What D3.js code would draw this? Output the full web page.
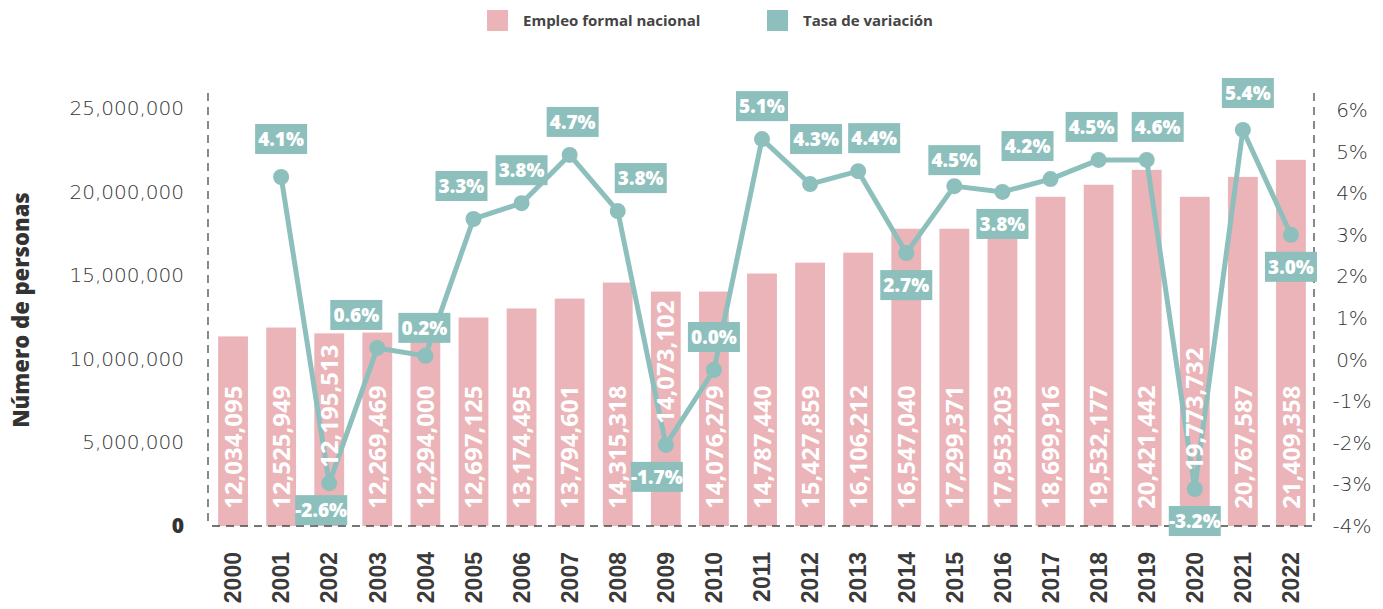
<!DOCTYPE html>
<html>
<head>
<meta charset="utf-8">
<script src="https://cdn.jsdelivr.net/npm/d3@7"></script>
<style>
  body { margin: 0; background: #fff; }
  svg { display: block; font-family: "Open Sans", sans-serif; }
  .tick line { display: none; }
</style>
</head>
<body>
<div id="grafico"></div>
<script>
// datos
var anios = ["2000","2001","2002","2003","2004","2005","2006","2007","2008","2009","2010","2011",
             "2012","2013","2014","2015","2016","2017","2018","2019","2020","2021","2022"];

// empleo formal nacional (valor de la etiqueta)
var empleo = [12034095, 12525949, 12195513, 12269469, 12294000, 12697125, 13174495, 13794601,
              14315318, 14073102, 14076279, 14787440, 15427859, 16106212, 16547040, 17299371,
              17953203, 18699916, 19532177, 20421442, 19773732, 20767587, 21409358];

// altura de las barras tal como se ven en la imagen
var empleoBarra = [11340000, 11870000, 11520000, 11570000, 11600000, 12470000, 13010000, 13600000,
                   14560000, 14020000, 14020000, 15100000, 15750000, 16350000, 17780000, 17780000,
                   17780000, 19690000, 20410000, 21300000, 19690000, 20880000, 21900000];

// tasa de variacion (etiqueta) y posicion de los puntos en la imagen
var tasa = [null, 4.1, -2.6, 0.6, 0.2, 3.3, 3.8, 4.7, 3.8, -1.7, 0.0, 5.1,
            4.3, 4.4, 2.7, 4.5, 3.8, 4.2, 4.5, 4.6, -3.2, 5.4, 3.0];
var tasaPunto = [null, 4.39, -2.97, 0.28, 0.09, 3.38, 3.76, 4.92, 3.57, -2.05, -0.25, 5.30,
                 4.22, 4.53, 2.56, 4.17, 4.03, 4.34, 4.80, 4.80, -3.11, 5.52, 3.0];

var ticksIzq = [0, 5000000, 10000000, 15000000, 20000000, 25000000];
var ticksDer = [-4, -3, -2, -1, 0, 1, 2, 3, 4, 5, 6];

var rosa = "#ebb4b8";
var verde = "#8dbfbd";

// etiquetas de la tasa que van debajo del punto, y pequeños ajustes
var debajo = ["2002", "2009", "2014", "2016", "2020", "2022"];
var ajusteX = {"2002": -8, "2003": -21, "2004": -1, "2005": -12, "2007": 3, "2008": 23, "2009": -9,
               "2012": 6, "2013": 16, "2017": -23, "2018": -7, "2019": 11, "2021": 5};
var ajusteY = {"2001": -5, "2002": -5, "2004": 5, "2012": -12, "2015": 7, "2021": -4};
// etiquetas de barra que suben para no chocar con la linea
var subeBarra = {"2002": 41, "2009": 85, "2020": 38};

var width = 1383, height = 609;

var svg = d3.select("#grafico").append("svg")
    .attr("width", width)
    .attr("height", height);

var x = d3.scaleBand()
    .domain(anios)
    .range([209, 1315])
    .paddingInner(0.38)
    .paddingOuter(0.19);

var yIzq = d3.scaleLinear()
    .domain([0, 25000000])
    .range([526, 108]);

var yDer = d3.scaleLinear()
    .domain([-4, 6])
    .range([526, 110]);

var cx = function(d) { return x(d) + x.bandwidth() / 2; };

// barras
svg.selectAll(".barra")
    .data(anios)
    .enter().append("rect")
    .attr("class", "barra")
    .attr("x", function(d) { return x(d); })
    .attr("width", x.bandwidth())
    .attr("y", function(d, i) { return yIzq(empleoBarra[i]); })
    .attr("height", function(d, i) { return yIzq(0) - yIzq(empleoBarra[i]); })
    .attr("fill", rosa);

// ejes punteados
var punteado = "8,6";
svg.append("line")
    .attr("x1", 208).attr("x2", 208)
    .attr("y1", 93).attr("y2", yIzq(0))
    .attr("stroke", "#4a4a4a").attr("stroke-width", 1.3).attr("stroke-dasharray", punteado);
svg.append("line")
    .attr("x1", 1314).attr("x2", 1314)
    .attr("y1", 93).attr("y2", yIzq(0))
    .attr("stroke", "#4a4a4a").attr("stroke-width", 1.3).attr("stroke-dasharray", punteado);
svg.append("line")
    .attr("x1", 212).attr("x2", 1314)
    .attr("y1", yIzq(0)).attr("y2", yIzq(0))
    .attr("stroke", "#4a4a4a").attr("stroke-width", 1.3).attr("stroke-dasharray", punteado);

// eje izquierdo
var ejeIzq = svg.append("g")
    .attr("transform", "translate(208,0)")
    .call(d3.axisLeft(yIzq).tickValues(ticksIzq).tickSize(0).tickPadding(24)
          .tickFormat(d3.format(",")));
ejeIzq.select(".domain").remove();
ejeIzq.selectAll("text")
    .style("font-family", "'DejaVu Sans', sans-serif")
    .style("font-size", "20px")
    .style("font-weight", 200)
    .attr("fill", "#333");
ejeIzq.selectAll("text").filter(function(d) { return d === 0; })
    .style("font-weight", 800)
    .style("font-family", "'Open Sans', sans-serif")
    .style("font-size", "21px")
    .attr("fill", "#333");

// eje derecho
var ejeDer = svg.append("g")
    .attr("transform", "translate(1314,0)")
    .call(d3.axisRight(yDer).tickValues(ticksDer).tickSize(0).tickPadding(38)
          .tickFormat(function(d) { return d + "%"; }));
ejeDer.select(".domain").remove();
ejeDer.selectAll("text")
    .attr("text-anchor", "middle")
    .style("font-family", "'DejaVu Sans', sans-serif")
    .style("font-size", "20px")
    .style("font-weight", 200)
    .attr("fill", "#333");

// eje x
var ejeX = svg.append("g")
    .attr("transform", "translate(0,552)")
    .call(d3.axisBottom(x).tickSize(0).tickPadding(0));
ejeX.select(".domain").remove();
ejeX.selectAll("text")
    .attr("transform", "rotate(-90)")
    .attr("text-anchor", "end")
    .attr("x", 0)
    .attr("y", 0)
    .attr("dy", "0.36em")
    .style("font-size", "23px")
    .style("font-weight", 800)
    .attr("fill", "#3a3a3a");

// titulo eje y
svg.append("text")
    .attr("transform", "translate(21,310) rotate(-90)")
    .attr("text-anchor", "middle")
    .attr("dy", "0.36em")
    .style("font-size", "22px")
    .style("font-weight", 800)
    .attr("fill", "#333")
    .text("Número de personas");

// linea de la tasa
var puntos = anios.map(function(d, i) { return {anio: d, v: tasaPunto[i], t: tasa[i]}; })
    .filter(function(d) { return d.v !== null; });

var linea = d3.line()
    .x(function(d) { return cx(d.anio); })
    .y(function(d) { return yDer(d.v); });

svg.append("path")
    .datum(puntos)
    .attr("d", linea)
    .attr("fill", "none")
    .attr("stroke", verde)
    .attr("stroke-width", 5)
    .attr("stroke-linejoin", "round");

svg.selectAll(".punto")
    .data(puntos)
    .enter().append("circle")
    .attr("class", "punto")
    .attr("cx", function(d) { return cx(d.anio); })
    .attr("cy", function(d) { return yDer(d.v); })
    .attr("r", 8)
    .attr("fill", verde);

// etiquetas de las barras (encima de la linea)
svg.selectAll(".valor")
    .data(anios)
    .enter().append("text")
    .attr("class", "valor")
    .attr("transform", function(d) {
        return "translate(" + cx(d) + "," + (509 - (subeBarra[d] || 0)) + ") rotate(-90)";
    })
    .attr("dy", "0.36em")
    .attr("fill", "#fff")
    .style("font-size", "24px")
    .style("font-weight", 700)
    .text(function(d, i) { return d3.format(",")(empleo[i]); });

// etiquetas de la tasa
var etiqueta = svg.selectAll(".etiqueta")
    .data(puntos)
    .enter().append("g")
    .attr("class", "etiqueta")
    .attr("transform", function(d) {
        var dy = debajo.indexOf(d.anio) >= 0 ? 32 : -33;
        dy += ajusteY[d.anio] || 0;
        var dx = ajusteX[d.anio] || 0;
        return "translate(" + (cx(d.anio) + dx) + "," + (yDer(d.v) + dy) + ")";
    });

etiqueta.append("rect")
    .attr("x", -26).attr("y", -15)
    .attr("width", 52).attr("height", 30)
    .attr("fill", verde);

etiqueta.append("text")
    .attr("text-anchor", "middle")
    .attr("dy", "0.36em")
    .attr("fill", "#fff")
    .style("font-size", "19px")
    .style("font-weight", 800)
    .text(function(d) { return d.t.toFixed(1) + "%"; });

// leyenda
var leyenda = [["Empleo formal nacional", rosa, 487], ["Tasa de variación", verde, 767]];
var ley = svg.selectAll(".ley")
    .data(leyenda)
    .enter().append("g")
    .attr("class", "ley")
    .attr("transform", function(d) { return "translate(" + d[2] + ",10)"; });
ley.append("rect")
    .attr("width", 21).attr("height", 21)
    .attr("fill", function(d) { return d[1]; });
ley.append("text")
    .attr("x", 36).attr("y", 16)
    .style("font-size", "15px")
    .style("font-weight", 700)
    .attr("fill", "#444")
    .text(function(d) { return d[0]; });
</script>
</body>
</html>
